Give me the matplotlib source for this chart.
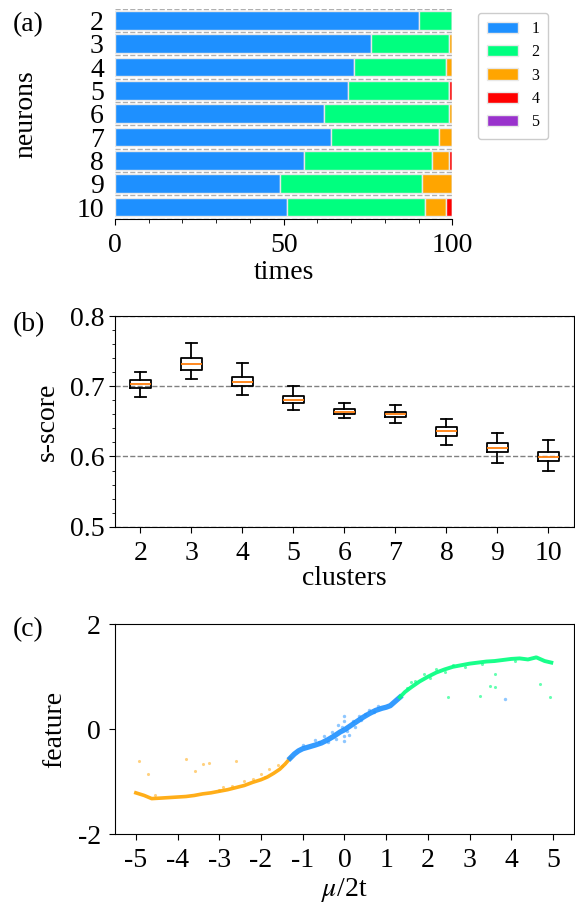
import matplotlib
matplotlib.use("Agg")
import matplotlib.pyplot as plt
from matplotlib.ticker import MultipleLocator, FixedLocator
import numpy as np

plt.rcParams['font.family'] = ['Liberation Serif', 'DejaVu Serif']
plt.rcParams['mathtext.fontset'] = 'stix'

# ---------------- Panel (a) data ----------------
neurons = [2, 3, 4, 5, 6, 7, 8, 9, 10]
cls_labels = ['1', '2', '3', '4', '5']
cls_colors = ['#1E90FF', '#00FF7F', '#FFA500', '#FF0000', '#9932CC']
cnt1 = [90, 76, 71, 69, 62, 64, 56, 49, 51]
cnt2 = [10, 23, 27, 30, 37, 32, 38, 42, 41]
cnt3 = [0, 1, 2, 0, 1, 4, 5, 9, 6]
cnt4 = [0, 0, 0, 1, 0, 0, 1, 0, 2]
cnt5 = [0, 0, 0, 0, 0, 0, 0, 0, 0]

# ---------------- Panel (b) data ----------------
clusters = [2, 3, 4, 5, 6, 7, 8, 9, 10]
wlo = [0.685, 0.711, 0.688, 0.666, 0.655, 0.648, 0.617, 0.591, 0.580]
q1 = [0.698, 0.723, 0.700, 0.676, 0.660, 0.656, 0.629, 0.607, 0.593]
med = [0.703, 0.731, 0.706, 0.681, 0.663, 0.661, 0.636, 0.612, 0.599]
q3 = [0.709, 0.740, 0.713, 0.686, 0.668, 0.663, 0.642, 0.619, 0.606]
whi = [0.721, 0.762, 0.733, 0.700, 0.676, 0.673, 0.654, 0.633, 0.623]

# ---------------- Panel (c) data ----------------
orange_x = [-5.0, -4.8, -4.62, -4.4, -4.2, -4.0, -3.8, -3.6, -3.4, -3.2, -3.0,
            -2.8, -2.6, -2.4, -2.2, -2.0, -1.85, -1.7, -1.55, -1.42, -1.3]
orange_y = [-1.21, -1.26, -1.32, -1.31, -1.30, -1.29, -1.28, -1.26, -1.23, -1.21, -1.18,
            -1.15, -1.11, -1.07, -1.01, -0.96, -0.91, -0.84, -0.76, -0.66, -0.55]
blue_x = [-1.3, -1.2, -1.1, -1.0, -0.87, -0.7, -0.55, -0.4, -0.25, -0.1, 0.0,
          0.15, 0.3, 0.45, 0.6, 0.75, 0.9, 1.0, 1.1, 1.2, 1.33]
blue_y = [-0.55, -0.47, -0.41, -0.37, -0.34, -0.30, -0.26, -0.20, -0.13, -0.05, -0.01,
          0.07, 0.15, 0.23, 0.30, 0.36, 0.40, 0.42, 0.45, 0.52, 0.61]
green_x = [1.33, 1.45, 1.6, 1.8, 2.0, 2.2, 2.4, 2.6, 2.8, 3.0, 3.2, 3.4, 3.6,
           3.8, 4.0, 4.2, 4.4, 4.6, 4.8, 4.96]
green_y = [0.61, 0.71, 0.80, 0.91, 1.00, 1.08, 1.14, 1.19, 1.22, 1.25, 1.27, 1.29, 1.30,
           1.32, 1.34, 1.35, 1.33, 1.37, 1.30, 1.27]
orange_nx = [-4.92, -4.71, -3.79, -3.24, -2.6, -3.58, -3.4, -2.0, -1.8, -2.4, -1.6, -2.9, -2.2,
             -4.55, -3.0, -2.7, -1.5, -1.9]
orange_ny = [-0.61, -0.86, -0.56, -0.64, -0.60, -0.80, -0.66, -0.85, -0.75, -0.98, -0.68, -1.10, -0.95,
             -1.25, -1.15, -1.08, -0.70, -0.90]
blue_nx = [0.0, 0.0, 0.0, 0.0, -0.7, -0.5, -0.3, -0.15, 0.2, 0.35, 0.5, 0.1, -0.4, 0.6, 0.8, 3.84,
           -0.2, 0.25, -0.05, 0.05, -0.6, 0.4, -1.0, 0.7]
blue_ny = [0.25, -0.22, 0.15, -0.12, -0.20, -0.12, -0.05, 0.08, 0.15, 0.25, 0.30, -0.10, -0.25, 0.37, 0.45, 0.57,
           -0.18, 0.05, 0.05, -0.04, -0.24, 0.18, -0.30, 0.32]
green_nx = [2.48, 3.25, 3.61, 3.5, 4.7, 4.94, 3.6, 1.6, 1.9, 2.2, 2.6, 1.5, 2.9,
            1.7, 2.05, 2.4, 3.3, 4.1]
green_ny = [0.62, 0.64, 0.80, 0.82, 0.86, 0.62, 1.05, 0.90, 1.05, 1.15, 1.22, 0.78, 1.18,
            0.92, 0.98, 1.10, 1.24, 1.31]

FS = 20
fig = plt.figure(figsize=(5.75, 9.05), dpi=100)

# ---------- (a) ----------
axa = fig.add_axes([0.2, 0.7583, 0.5866, 0.232])
left = np.zeros(len(neurons))
for vals, lab, col in zip([cnt1, cnt2, cnt3, cnt4, cnt5], cls_labels, cls_colors):
    axa.barh(neurons, vals, left=left, height=0.8, color=col, edgecolor='#e8e8e8',
             linewidth=1.0, label=lab, zorder=3)
    left = left + np.array(vals)
axa.set_xlim(0, 100)
axa.set_ylim(10.5, 1.5)
axa.set_yticks(neurons)
axa.set_yticklabels([str(n) for n in neurons])
axa.yaxis.set_minor_locator(FixedLocator(np.arange(1.5, 11, 1.0)))
axa.grid(True, which='minor', axis='y', linestyle='--', color='#b0b0b0', linewidth=1.0, zorder=0)
axa.tick_params(axis='y', which='both', length=0, pad=8, labelsize=FS)
axa.set_xticks([0, 50, 100])
axa.xaxis.set_minor_locator(MultipleLocator(10))
axa.tick_params(axis='x', which='major', length=4, labelsize=FS, pad=6)
axa.tick_params(axis='x', which='minor', length=3)
for s in ['top', 'right', 'left']:
    axa.spines[s].set_visible(False)
axa.set_xlabel('times', fontsize=FS, labelpad=2)
axa.set_ylabel('neurons', fontsize=FS, labelpad=27)
axa.legend(loc='upper left', bbox_to_anchor=(0.817, 0.995), bbox_transform=fig.transFigure,
           fontsize=11.5, handlelength=2.0, labelspacing=0.45, borderpad=0.55, framealpha=1,
           edgecolor='#cccccc')

# ---------- (b) ----------
axb = fig.add_axes([0.2, 0.418, 0.798, 0.2328])
stats = []
for i in range(len(clusters)):
    stats.append(dict(whislo=wlo[i], q1=q1[i], med=med[i], q3=q3[i], whishi=whi[i], fliers=[]))
axb.bxp(stats, positions=clusters, widths=0.42, showfliers=False,
        boxprops=dict(color='black', linewidth=1.3),
        whiskerprops=dict(color='black', linewidth=1.3),
        capprops=dict(color='black', linewidth=1.3),
        medianprops=dict(color='#ff7f0e', linewidth=1.3))
axb.set_xlim(1.5, 10.5)
axb.set_ylim(0.5, 0.8)
axb.set_yticks([0.5, 0.6, 0.7, 0.8])
axb.set_yticklabels(['0.5', '0.6', '0.7', '0.8'])
axb.yaxis.set_minor_locator(MultipleLocator(0.02))
axb.set_xticks(clusters)
axb.set_xticklabels([str(c) for c in clusters])
axb.grid(True, which='major', axis='y', linestyle='--', color='gray', linewidth=1.0, zorder=0)
axb.set_axisbelow(True)
axb.tick_params(axis='both', which='major', labelsize=FS, length=4)
axb.tick_params(axis='x', which='major', pad=6)
axb.tick_params(axis='y', which='minor', length=2.5)
axb.set_xlabel('clusters', fontsize=FS, labelpad=0)
axb.set_ylabel('s-score', fontsize=FS, labelpad=7)

# ---------- (c) ----------
axc = fig.add_axes([0.2, 0.0781, 0.798, 0.2321])
axc.plot(orange_x, orange_y, color='#FFA500', linewidth=2.6, alpha=0.9)
axc.plot(blue_x, blue_y, color='#1E90FF', linewidth=3.8, alpha=0.9)
axc.plot(green_x, green_y, color='#00FF7F', linewidth=2.8, alpha=0.9)
axc.scatter(orange_nx, orange_ny, s=5, color='#FFA500', alpha=0.5, linewidths=0)
axc.scatter(blue_nx, blue_ny, s=6, color='#1E90FF', alpha=0.5, linewidths=0)
axc.scatter(green_nx, green_ny, s=5, color='#00FF7F', alpha=0.6, linewidths=0)
axc.set_xlim(-5.5, 5.5)
axc.set_ylim(-2, 2)
axc.set_xticks(range(-5, 6))
axc.set_xticklabels([str(v) for v in range(-5, 6)])
axc.set_yticks([-2, 0, 2])
axc.set_yticklabels(['-2', '0', '2'])
axc.tick_params(axis='both', which='major', labelsize=FS, length=4, pad=6)
axc.set_xlabel(r'$\mu$/2t', fontsize=FS, labelpad=2)
axc.set_ylabel('feature', fontsize=FS, labelpad=8)

fig.text(0.022, 0.9724, '(a)', fontsize=FS, va='center', ha='left')
fig.text(0.022, 0.6409, '(b)', fontsize=FS, va='center', ha='left')
fig.text(0.022, 0.3044, '(c)', fontsize=FS, va='center', ha='left')

fig.savefig('out.png', dpi=100)
